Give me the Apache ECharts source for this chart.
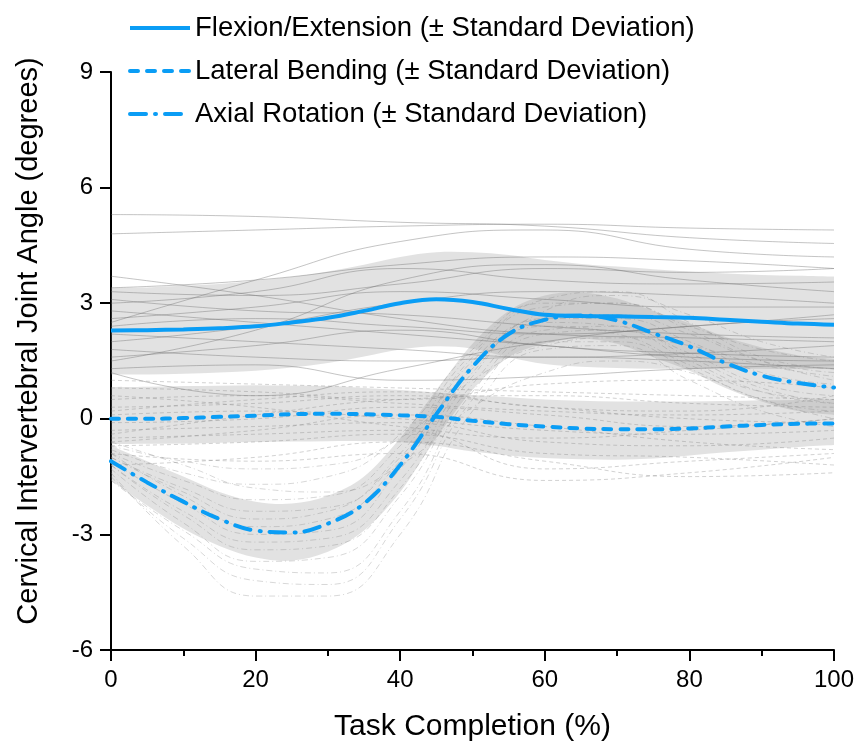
<!DOCTYPE html>
<html>
<head>
<meta charset="utf-8">
<script src="https://cdn.jsdelivr.net/npm/echarts@6/dist/echarts.min.js"></script>
<style>html,body{margin:0;padding:0;background:#fff}#c{width:859px;height:747px}</style>
</head>
<body>
<div id="c"></div>
<script>
// x positions (Task Completion %)
var xsMean = [0,5,10,15,20,25,30,35,40,45,50,55,60,65,70,75,80,85,90,95,100];
// Flexion/Extension
var feMean  = [2.29,2.30,2.32,2.35,2.40,2.50,2.62,2.80,3.00,3.10,3.03,2.85,2.70,2.67,2.66,2.64,2.62,2.57,2.52,2.47,2.44];
var feUpper = [3.40,3.41,3.45,3.50,3.58,3.68,3.82,4.00,4.20,4.32,4.32,4.25,4.12,4.02,3.95,3.88,3.82,3.77,3.73,3.71,3.69];
var feLower = [1.15,1.15,1.17,1.20,1.25,1.33,1.45,1.62,1.80,1.88,1.82,1.60,1.42,1.35,1.32,1.30,1.30,1.30,1.30,1.29,1.28];
// Lateral Bending
var lbMean  = [0.00,0.00,0.02,0.05,0.08,0.12,0.13,0.12,0.09,0.05,-0.05,-0.14,-0.20,-0.25,-0.27,-0.27,-0.25,-0.20,-0.16,-0.13,-0.12];
var lbUpper = [0.82,0.83,0.85,0.86,0.87,0.86,0.85,0.80,0.75,0.68,0.62,0.56,0.50,0.47,0.45,0.45,0.45,0.46,0.48,0.49,0.50];
var lbLower = [-0.66,-0.65,-0.64,-0.62,-0.60,-0.59,-0.58,-0.58,-0.60,-0.70,-0.85,-0.95,-1.02,-1.05,-1.06,-1.03,-0.95,-0.87,-0.80,-0.73,-0.68];
// Axial Rotation
var arMean  = [-1.10,-1.65,-2.15,-2.60,-2.90,-2.95,-2.72,-2.20,-1.20,0.12,1.35,2.20,2.57,2.68,2.55,2.22,1.88,1.45,1.12,0.93,0.81];
var arUpper = [-0.70,-1.10,-1.50,-1.90,-2.15,-2.20,-2.00,-1.50,-0.50,0.75,1.95,2.80,3.20,3.28,3.12,2.80,2.48,2.12,1.85,1.65,1.55];
var arLower = [-1.60,-2.25,-2.85,-3.30,-3.60,-3.68,-3.45,-2.90,-1.90,-0.50,0.75,1.60,1.95,2.08,1.95,1.60,1.25,0.80,0.45,0.20,0.10];

// individual subjects
var xsInd6 = [0,20,40,60,80,100];
var feInd = [
  [5.30,5.25,5.10,5.00,4.70,4.55],
  [4.80,4.90,5.00,5.05,4.95,4.90],
  [3.70,3.20,2.60,2.20,2.10,2.00],
  [2.50,3.60,4.60,4.90,4.40,4.20],
  [3.30,3.20,3.50,3.90,3.80,3.90],
  [3.00,3.30,3.90,3.60,3.50,3.55],
  [2.80,2.50,2.20,1.90,1.60,1.50],
  [2.60,2.90,3.30,3.10,2.90,2.90],
  [2.20,2.00,1.80,1.60,1.70,1.90],
  [2.00,2.40,3.00,3.30,3.20,3.00],
  [1.80,1.60,1.50,1.60,1.50,1.30],
  [1.50,2.30,3.60,4.00,3.60,3.30],
  [1.30,1.40,1.00,1.10,1.30,1.40],
  [1.20,0.60,1.30,2.00,2.40,2.60],
  [3.10,2.80,2.70,2.40,2.20,2.10],
  [2.40,2.60,2.40,2.20,2.40,2.70],
  [1.60,1.90,2.30,1.90,1.70,1.60],
  [3.40,3.60,4.00,4.20,4.10,3.90]
];
var lbInd = [
  [1.00,0.90,0.80,0.70,0.60,0.50],
  [0.80,0.70,0.50,0.90,1.00,0.80],
  [0.50,0.60,0.40,0.20,0.10,0.20],
  [0.30,0.40,0.60,0.30,0.00,-0.10],
  [0.10,0.20,0.00,-0.30,-0.40,-0.30],
  [-0.10,0.00,0.30,0.10,-0.20,0.00],
  [-0.30,-0.20,-0.10,-0.60,-0.70,-0.50],
  [-0.50,-0.40,-0.30,-1.30,-1.10,-0.90],
  [-0.70,-0.60,-0.40,-0.90,-1.00,-1.20],
  [-0.90,-1.10,-0.90,-1.60,-1.40,-1.00],
  [-0.40,0.10,0.50,0.60,0.40,0.30],
  [0.60,0.30,-0.20,-0.50,-0.30,0.00],
  [-0.60,-0.30,0.10,-0.20,-0.60,-0.80],
  [0.20,0.50,0.70,0.30,0.20,0.60],
  [-1.20,-1.00,-0.60,-1.10,-1.50,-1.40]
];
var xsInd11 = [0,10,20,30,40,50,60,70,80,90,100];
var arInd = [
  [-1.0,-1.8,-2.4,-2.3,-1.0,1.5,2.6,2.7,2.2,1.5,1.2],
  [-1.2,-2.4,-3.2,-3.1,-1.6,1.2,2.5,2.4,1.7,0.9,0.6],
  [-0.8,-1.4,-1.7,-1.5,-0.4,1.8,3.0,3.0,2.4,1.8,1.5],
  [-1.5,-3.1,-4.2,-4.3,-2.6,0.5,2.0,2.0,1.3,0.5,0.2],
  [-1.4,-3.3,-4.6,-4.6,-3.0,0.2,1.8,1.9,1.0,0.2,-0.2],
  [-0.9,-2.0,-2.8,-2.6,-1.1,1.4,2.8,3.2,2.7,2.0,1.6],
  [-1.1,-2.2,-3.0,-2.9,-1.3,1.3,2.4,2.2,1.4,0.7,0.5],
  [-0.7,-1.1,-1.3,-1.2,-0.5,1.0,1.9,2.1,1.9,1.4,1.1],
  [-1.3,-2.7,-3.7,-3.6,-2.0,0.9,2.3,2.4,1.6,0.8,0.4],
  [-1.0,-1.9,-2.6,-2.4,-0.9,1.6,3.1,3.3,2.5,1.6,1.3],
  [-1.2,-2.5,-3.4,-3.3,-1.8,1.1,2.6,2.6,2.0,1.2,0.9],
  [-0.6,-1.2,-1.8,-1.9,-1.2,0.3,1.2,1.5,1.2,0.5,0.0],
  [-1.6,-2.9,-3.9,-4.0,-2.4,0.7,2.2,2.3,1.5,0.7,0.4],
  [-0.9,-1.6,-2.1,-2.0,-0.7,1.7,2.9,3.0,2.3,1.5,1.0]
];

var xTicks = [0,20,40,60,80,100];
var yTicks = [-6,-3,0,3,6,9];
var names = ['Flexion/Extension (± Standard Deviation)','Lateral Bending (± Standard Deviation)','Axial Rotation (± Standard Deviation)'];

function pairs(xs, ys){ return xs.map(function(x,i){ return [x, ys[i]]; }); }
var BLUE = '#0a9df5';

// Catmull-Rom path segments through screen points (pts), continuing an existing path
function crSegs(pts){
  var s = '';
  for (var i = 0; i < pts.length - 1; i++){
    var p0 = pts[i-1] || pts[i], p1 = pts[i], p2 = pts[i+1], p3 = pts[i+2] || pts[i+1];
    var c1x = p1[0] + (p2[0]-p0[0])/6, c1y = p1[1] + (p2[1]-p0[1])/6;
    var c2x = p2[0] - (p3[0]-p1[0])/6, c2y = p2[1] - (p3[1]-p1[1])/6;
    s += ' C' + c1x + ',' + c1y + ' ' + c2x + ',' + c2y + ' ' + p2[0] + ',' + p2[1];
  }
  return s;
}
function bandSeries(lower, upper){
  return {
    type:'custom', silent:true, z:1,
    data:[[0,0]],
    renderItem:function(params, api){
      var up = xsMean.map(function(x,i){ return api.coord([x, upper[i]]); });
      var lo = xsMean.map(function(x,i){ return api.coord([x, lower[i]]); }).reverse();
      var d = 'M' + up[0][0] + ',' + up[0][1] + crSegs(up) + ' L' + lo[0][0] + ',' + lo[0][1] + crSegs(lo) + ' Z';
      return {type:'path', shape:{pathData:d}, style:{fill:'rgba(150,150,150,0.28)', stroke:null}};
    }
  };
}
var series = [];
series.push(bandSeries(feLower, feUpper));
series.push(bandSeries(lbLower, lbUpper));
series.push(bandSeries(arLower, arUpper));
feInd.forEach(function(r){ series.push({type:'line', data:pairs(xsInd6, r), smooth:true, symbol:'none', lineStyle:{color:'rgba(110,110,110,0.45)', width:0.9}, silent:true, z:2}); });
lbInd.forEach(function(r){ series.push({type:'line', data:pairs(xsInd6, r), smooth:true, symbol:'none', lineStyle:{color:'rgba(130,130,130,0.4)', width:0.9, type:[4,3]}, silent:true, z:2}); });
arInd.forEach(function(r){ series.push({type:'line', data:pairs(xsInd11, r), smooth:true, symbol:'none', lineStyle:{color:'rgba(130,130,130,0.35)', width:0.9, type:[6,3,1,3]}, silent:true, z:2}); });
series.push({name:names[0], type:'line', data:pairs(xsMean, feMean), smooth:0.4, symbol:'none', lineStyle:{color:BLUE, width:4}, itemStyle:{color:BLUE}, z:5});
series.push({name:names[1], type:'line', data:pairs(xsMean, lbMean), smooth:0.4, symbol:'none', lineStyle:{color:BLUE, width:4, type:[8,9], cap:'round'}, itemStyle:{color:BLUE}, z:5});
series.push({name:names[2], type:'line', data:pairs(xsMean, arMean), smooth:0.4, symbol:'none', lineStyle:{color:BLUE, width:4, type:[16,9,1,9], cap:'round'}, itemStyle:{color:BLUE}, z:5});

var font = 'Liberation Sans, Arial, sans-serif';
var chart = echarts.init(document.getElementById('c'), null, {renderer:'canvas'});
chart.setOption({
  animation:false,
  backgroundColor:'#fff',
  grid:{left:111, right:25, top:72, bottom:95},
  legend:{data:names, orient:'vertical', left:123, top:9, itemWidth:60, itemHeight:14, itemGap:15,
    itemStyle:{color:'rgba(0,0,0,0)', borderWidth:0, opacity:0},
    lineStyle:{width:4},
    textStyle:{fontFamily:font, fontSize:27.5, color:'#000'}},
  xAxis:{type:'value', min:xTicks[0], max:xTicks[xTicks.length-1], interval:20,
    name:'Task Completion (%)', nameLocation:'middle', nameGap:62,
    nameTextStyle:{fontFamily:font, fontSize:30, color:'#000'},
    axisLine:{onZero:false, lineStyle:{color:'#000', width:2}},
    axisTick:{show:true, length:11, lineStyle:{color:'#000', width:2}},
    minorTick:{show:true, splitNumber:2, length:6, lineStyle:{color:'#000', width:2}},
    axisLabel:{fontFamily:font, fontSize:24, color:'#000', margin:18},
    splitLine:{show:false}},
  yAxis:{type:'value', min:yTicks[0], max:yTicks[yTicks.length-1], interval:3,
    name:'Cervical Intervertebral Joint Angle (degrees)', nameLocation:'middle', nameGap:68,
    nameTextStyle:{fontFamily:font, fontSize:29, color:'#000', padding:[0,0,0,40]},
    axisLine:{onZero:false, lineStyle:{color:'#000', width:2}},
    axisTick:{show:true, length:11, lineStyle:{color:'#000', width:2}},
    axisLabel:{fontFamily:font, fontSize:24, color:'#000', margin:18},
    splitLine:{show:false}},
  series:series
});
</script>
</body>
</html>
